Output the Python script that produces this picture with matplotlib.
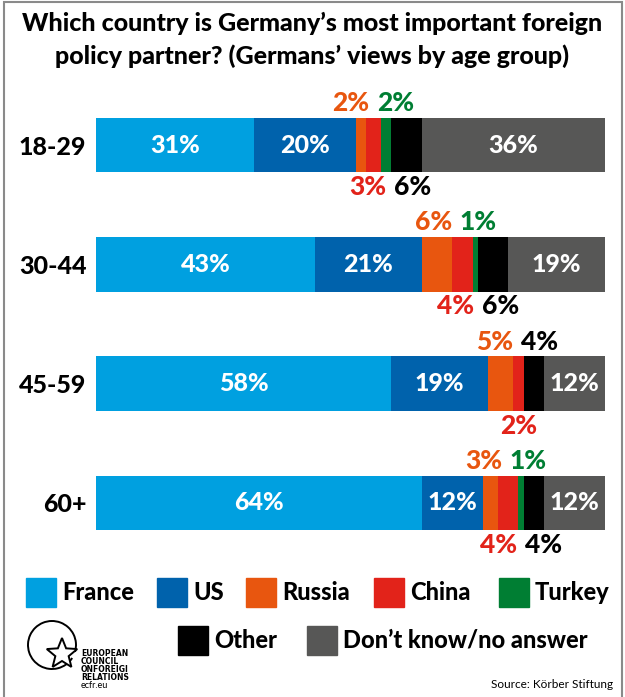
import matplotlib.pyplot as plt
from matplotlib.patches import Rectangle, Arc, Polygon
import numpy as np

plt.rcParams['font.family'] = ['Lato', 'DejaVu Sans']

# data
groups = ["18-29", "30-44", "45-59", "60+"]
answers = ["France", "US", "Russia", "China", "Turkey", "Other", "Don\u2019t know/no answer"]
france = [31, 43, 58, 64]
us = [20, 21, 19, 12]
russia = [2, 6, 5, 3]
china = [3, 4, 2, 4]
turkey = [2, 1, 0, 1]
other = [6, 6, 4, 4]
dont_know = [36, 19, 12, 12]

colors = ["#00A0E0", "#0062AC", "#E8560F", "#E2231A", "#007E33", "#000000", "#575756"]
series = [france, us, russia, china, turkey, other, dont_know]

W, H = 625, 697
fig = plt.figure(figsize=(W / 100, H / 100), dpi=100)
HEAVY = 'black'

# axes placed so row centres land where the reference has them
top_px, bot_px = 85.5, 562.5
ax = fig.add_axes([96 / W, 1 - bot_px / H, (605 - 96) / W, (bot_px - top_px) / H])

y = np.arange(len(groups))
left = np.zeros(len(groups))
bar_h = 0.455
inside = {0, 1, 6}  # label inside bar for these answers

labels_up = {i: [] for i in range(len(groups))}
labels_dn = {i: [] for i in range(len(groups))}

for k, (vals, col) in enumerate(zip(series, colors)):
    vals = np.array(vals, dtype=float)
    ax.barh(y, vals, left=left, height=bar_h, color=col, edgecolor='none')
    for i, v in enumerate(vals):
        if v <= 0:
            continue
        cx = left[i] + v / 2
        txt = f"{int(v)}%"
        if k in inside:
            ax.text(cx, y[i], txt, ha='center', va='center', color='white',
                    fontsize=18, fontweight=HEAVY)
        else:
            # Russia / Turkey on top, China below, Other below unless there's no Turkey label
            if k in (2, 4):
                labels_up[i].append([cx, txt, col])
            elif k == 3:
                labels_dn[i].append([cx, txt, col])
            else:
                if turkey[i] > 0:
                    labels_dn[i].append([cx, txt, col])
                else:
                    labels_up[i].append([cx, txt, col])
    left += vals

# spread small labels apart when they sit too close
min_gap = 8.8
for store, off in ((labels_up, 42), (labels_dn, -42)):
    for i, labs in store.items():
        if len(labs) == 2 and labs[1][0] - labs[0][0] < min_gap:
            mid = (labs[0][0] + labs[1][0]) / 2
            labs[0][0] = mid - min_gap / 2
            labs[1][0] = mid + min_gap / 2
        for cx, txt, col in labs:
            ax.annotate(txt, xy=(cx, y[i]), xytext=(0, off), textcoords='offset pixels',
                        ha='center', va='center', color=col, fontsize=19, fontweight=HEAVY)

ax.set_xlim(0, 100)
ax.set_ylim(len(groups) - 0.5, -0.5)
ax.set_yticks(y)
ax.set_yticklabels(groups, fontsize=18, fontweight=HEAVY)
ax.tick_params(axis='y', length=0, pad=7)
ax.set_xticks([])
for s in ax.spines.values():
    s.set_visible(False)

# title
fig.text(0.5, 1 - 23 / H, "Which country is Germany\u2019s most important foreign",
         ha='center', va='center', fontsize=18, fontweight=HEAVY)
fig.text(0.5, 1 - 56 / H, "policy partner? (Germans\u2019 views by age group)",
         ha='center', va='center', fontsize=18, fontweight=HEAVY)

# legend drawn by hand
legend_pos = [(26, 592), (157, 592), (246, 592), (374, 592), (499, 592), (178, 640), (307, 640)]
sw, sh = 30, 29
for name, col, (lx, ly) in zip(answers, colors, legend_pos):
    fig.add_artist(Rectangle((lx / W, 1 - (ly + sh / 2) / H), sw / W, sh / H,
                             transform=fig.transFigure, color=col))
    fig.text((lx + sw + 6) / W, 1 - ly / H, name, ha='left', va='center',
             fontsize=17, fontweight=HEAVY)

# ECFR logo
cx, cy, r = 52, 645, 24
fig.add_artist(Arc((cx / W, 1 - cy / H), 2 * r / W, 2 * r / H, theta1=-15, theta2=330,
                   transform=fig.transFigure, lw=1.4, ec='black'))
ang = np.deg2rad(90 + np.arange(10) * 36)
rad = np.where(np.arange(10) % 2 == 0, 16, 7)
sx, sy = 62, 654
pts = [((sx + rr * np.cos(a)) / W, 1 - (sy - rr * np.sin(a)) / H) for a, rr in zip(ang, rad)]
fig.add_artist(Polygon(pts, closed=True, transform=fig.transFigure,
                       fill=True, fc='white', ec='black', lw=1.4))
logo_lines = ["EUROPEAN", "COUNCIL", "ONFOREIGI", "RELATIONS"]
for j, t in enumerate(logo_lines):
    fig.text(81 / W, 1 - (654 + j * 8) / H, t, ha='left', va='center',
             fontsize=5.5, fontweight='bold', family='Liberation Sans Narrow')
fig.text(81 / W, 1 - 686 / H, "ecfr.eu", ha='left', va='center', fontsize=6.5)

fig.text(613 / W, 1 - 685 / H, "Source: K\u00f6rber Stiftung", ha='right', va='center',
         fontsize=8.5)

# frame around the graphic
fig.add_artist(Rectangle((4 / W, -0.01), (622 - 4) / W, 1 - 2 / H + 0.01,
                         transform=fig.transFigure, fill=False, ec='#8a8a8a', lw=1.5))

fig.savefig("out.png", dpi=100)
